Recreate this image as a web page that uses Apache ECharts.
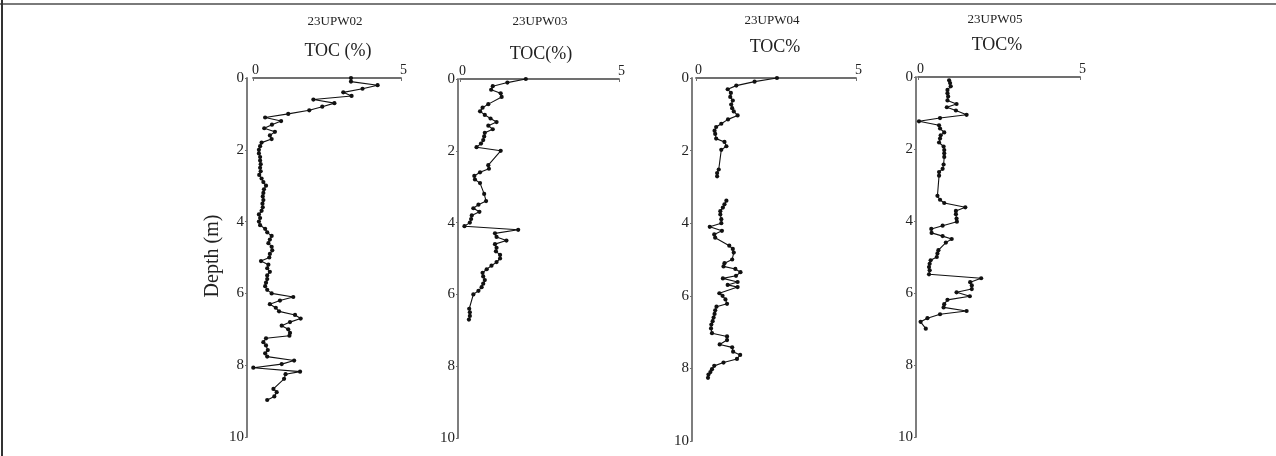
<!DOCTYPE html>
<html>
<head>
<meta charset="utf-8">
<script src="https://cdn.jsdelivr.net/npm/echarts@6/dist/echarts.min.js"></script>
<style>
html,body{margin:0;padding:0;background:#fff;}
#c{width:1276px;height:456px;}
</style>
</head>
<body>
<div id="c"></div>
<script>
// ---- data ----
const panelNames = ['23UPW02', '23UPW03', '23UPW04', '23UPW05'];
const xAxisTitles = ['TOC (%)', 'TOC(%)', 'TOC%', 'TOC%'];
const yAxisTitle = 'Depth (m)';
const xTicks = [0, 5];
const yTicks = [0, 2, 4, 6, 8, 10];

const depthW02 = [0,0.1,0.2,0.3,0.4,0.5,0.6,0.7,0.8,0.9,1.0,1.1,1.2,1.3,1.4,1.5,1.6,1.7,1.8,1.9,2.0,2.1,2.2,2.3,2.4,2.5,2.6,2.7,2.8,2.9,3.0,3.1,3.2,3.3,3.4,3.5,3.6,3.7,3.8,3.9,4.0,4.1,4.2,4.3,4.4,4.5,4.6,4.7,4.8,4.9,5.0,5.1,5.2,5.3,5.4,5.5,5.6,5.7,5.8,5.9,6.0,6.1,6.2,6.3,6.4,6.5,6.6,6.7,6.8,6.9,7.0,7.1,7.18,7.25,7.36,7.45,7.58,7.67,7.76,7.87,7.97,8.07,8.18,8.25,8.38,8.66,8.75,8.87,8.97];
const tocW02 = [3.31,3.31,4.21,3.70,3.05,3.33,2.04,2.75,2.34,1.90,1.19,0.41,0.95,0.64,0.38,0.74,0.57,0.63,0.29,0.24,0.20,0.20,0.24,0.24,0.26,0.24,0.26,0.21,0.29,0.35,0.44,0.37,0.35,0.33,0.35,0.32,0.33,0.29,0.20,0.24,0.20,0.24,0.41,0.48,0.63,0.57,0.52,0.63,0.65,0.57,0.55,0.27,0.52,0.48,0.57,0.48,0.48,0.44,0.41,0.48,0.63,1.36,0.91,0.57,0.77,0.88,1.42,1.61,1.25,0.97,1.19,1.25,1.23,0.44,0.35,0.44,0.50,0.41,0.48,1.39,0.97,0.01,1.59,1.10,1.05,0.69,0.80,0.72,0.48];

const depthW03 = [0,0.1,0.2,0.3,0.4,0.5,0.7,0.8,0.9,1.0,1.1,1.2,1.3,1.4,1.5,1.6,1.7,1.8,1.9,2.0,2.4,2.5,2.6,2.7,2.8,2.9,3.2,3.4,3.5,3.6,3.7,3.8,3.9,4.0,4.1,4.2,4.3,4.4,4.5,4.6,4.7,4.8,4.9,5.0,5.1,5.2,5.3,5.4,5.5,5.6,5.7,5.8,5.9,6.0,6.4,6.5,6.6,6.7];
const tocW03 = [2.07,1.49,1.03,0.98,1.28,1.31,0.89,0.71,0.63,0.78,0.96,1.15,0.89,1.03,0.78,0.76,0.73,0.66,0.52,1.28,0.89,0.91,0.63,0.45,0.47,0.63,0.76,0.82,0.58,0.42,0.61,0.37,0.35,0.31,0.14,1.83,1.10,1.15,1.46,1.10,1.15,1.13,1.26,1.26,1.15,0.99,0.84,0.71,0.73,0.78,0.73,0.68,0.58,0.42,0.29,0.31,0.31,0.28];

// null depth entry = gap in the record
const depthW04 = [0,0.1,0.21,0.31,0.41,0.52,0.62,0.73,0.83,0.92,1.03,1.14,1.26,1.35,1.45,1.54,1.67,1.76,1.88,1.98,2.52,2.62,2.71,null,3.38,3.48,3.57,3.67,3.76,3.89,4.0,4.1,4.21,4.31,4.4,4.62,4.71,4.81,5.0,5.1,5.19,5.26,5.35,5.45,5.52,5.62,5.7,5.76,5.93,6.0,6.1,6.22,6.3,6.4,6.5,6.6,6.7,6.79,6.9,7.03,7.12,7.22,7.34,7.42,7.54,7.63,7.74,7.84,7.93,8.02,8.1,8.17,8.26];
const tocW04 = [2.53,1.83,1.26,0.99,1.09,1.07,1.15,1.10,1.13,1.18,1.30,1.00,0.79,0.63,0.58,0.60,0.63,0.89,0.95,0.79,0.71,0.66,0.66,null,0.95,0.89,0.84,0.76,0.76,0.79,0.79,0.43,0.81,0.57,0.60,1.04,1.15,1.18,1.13,0.89,0.86,1.23,1.39,1.25,0.84,1.30,0.99,1.30,0.73,0.83,0.92,0.97,0.64,0.60,0.58,0.55,0.52,0.48,0.47,0.50,0.97,0.97,0.74,1.13,1.16,1.38,1.28,0.86,0.57,0.50,0.45,0.39,0.375];

const depthW05 = [0.09,0.17,0.26,0.36,0.45,0.54,0.65,0.75,0.84,0.93,1.05,1.14,1.23,1.34,1.43,1.54,1.62,1.71,1.82,1.93,2.03,2.12,2.22,2.43,2.55,2.64,2.74,3.3,3.41,3.5,3.62,3.72,3.81,3.93,4.02,4.13,4.22,4.33,4.42,4.5,4.6,4.81,4.9,5.0,5.09,5.19,5.28,5.37,5.48,5.59,5.7,5.79,5.89,5.98,6.09,6.19,6.31,6.4,6.5,6.59,6.7,6.8,6.99];
const tocW05 = [0.96,0.99,1.01,0.91,0.91,0.93,0.91,1.19,0.89,1.17,1.50,0.68,0.03,0.65,0.68,0.81,0.70,0.68,0.65,0.79,0.81,0.81,0.81,0.79,0.76,0.65,0.65,0.60,0.68,0.81,1.46,1.17,1.17,1.19,1.20,0.76,0.41,0.42,0.76,1.04,0.86,0.63,0.60,0.58,0.39,0.36,0.34,0.36,0.34,1.95,1.61,1.66,1.66,1.19,1.60,0.91,0.81,0.79,1.50,0.68,0.29,0.08,0.24];

const depths = [depthW02, depthW03, depthW04, depthW05];
const tocs = [tocW02, tocW03, tocW04, tocW05];

// ---- layout (styles/positions) ----
const grids = [
  {left: 253, top: 78, width: 148, height: 359, yOff: 6},
  {left: 460, top: 79, width: 159, height: 359, yOff: 2},
  {left: 696, top: 78, width: 160, height: 363, yOff: 4},
  {left: 918, top: 77, width: 162, height: 360, yOff: 2}
];
const nameY = [22, 22, 21, 20];
const titleY = [51, 54, 47, 45];
const titleX = [338, 541, 775, 997];
const nameX = [335, 540, 772, 995];

const FONT = '"Liberation Serif", "Times New Roman", serif';
const axisColor = '#707070';
const textColor = '#222222';

const option = {
  backgroundColor: '#ffffff',
  animation: false,
  grid: grids.map(g => ({left: g.left, top: g.top, width: g.width, height: g.height, containLabel: false})),
  xAxis: grids.map((g, i) => ({
    gridIndex: i, type: 'value', position: 'top',
    min: xTicks[0], max: xTicks[xTicks.length - 1], interval: xTicks[1] - xTicks[0],
    axisLine: {show: true, lineStyle: {color: axisColor, width: 1.8}},
    axisTick: {show: true, inside: true, length: 3, lineStyle: {color: axisColor, width: 1}},
    axisLabel: {show: true, fontFamily: FONT, fontSize: 14, color: textColor, margin: 1, padding: [0, 0, 0, 5]},
    splitLine: {show: false}
  })),
  yAxis: grids.map((g, i) => ({
    gridIndex: i, type: 'value', inverse: true, offset: g.yOff,
    min: yTicks[0], max: yTicks[yTicks.length - 1], interval: yTicks[1] - yTicks[0],
    axisLine: {show: true, onZero: false, lineStyle: {color: axisColor, width: 1.8}},
    axisTick: {show: true, length: 2, lineStyle: {color: axisColor, width: 1}},
    axisLabel: {show: true, fontFamily: FONT, fontSize: 15, color: textColor, margin: 3},
    splitLine: {show: false}
  })),
  series: depths.map((d, i) => ({
    type: 'line', xAxisIndex: i, yAxisIndex: i,
    data: d.map((v, k) => (v === null ? ['-', '-'] : [tocs[i][k], v])),
    symbol: 'circle', symbolSize: 4.2, showSymbol: true,
    connectNulls: false,
    itemStyle: {color: '#111'},
    lineStyle: {color: '#111', width: 1.1},
    silent: true
  })),
  graphic: [
    {type: 'rect', shape: {x: 0, y: 3, width: 1276, height: 2}, style: {fill: '#7a7a7a'}, silent: true},
    {type: 'rect', shape: {x: 1, y: 0, width: 2, height: 456}, style: {fill: '#333'}, silent: true},
    {type: 'text', x: 213, y: 256, rotation: Math.PI / 2,
     style: {text: yAxisTitle, font: '20px ' + FONT, fill: textColor, align: 'center', verticalAlign: 'middle'}}
  ].concat(panelNames.map((n, i) => ({
    type: 'text', x: nameX[i], y: nameY[i],
    style: {text: n, font: '13px ' + FONT, fill: textColor, align: 'center', verticalAlign: 'middle'}
  }))).concat(xAxisTitles.map((t, i) => ({
    type: 'text', x: titleX[i], y: titleY[i],
    style: {text: t, font: '18px ' + FONT, fill: textColor, align: 'center', verticalAlign: 'middle'}
  })))
};

const chart = echarts.init(document.getElementById('c'), null, {renderer: 'canvas'});
chart.setOption(option);
</script>
</body>
</html>
